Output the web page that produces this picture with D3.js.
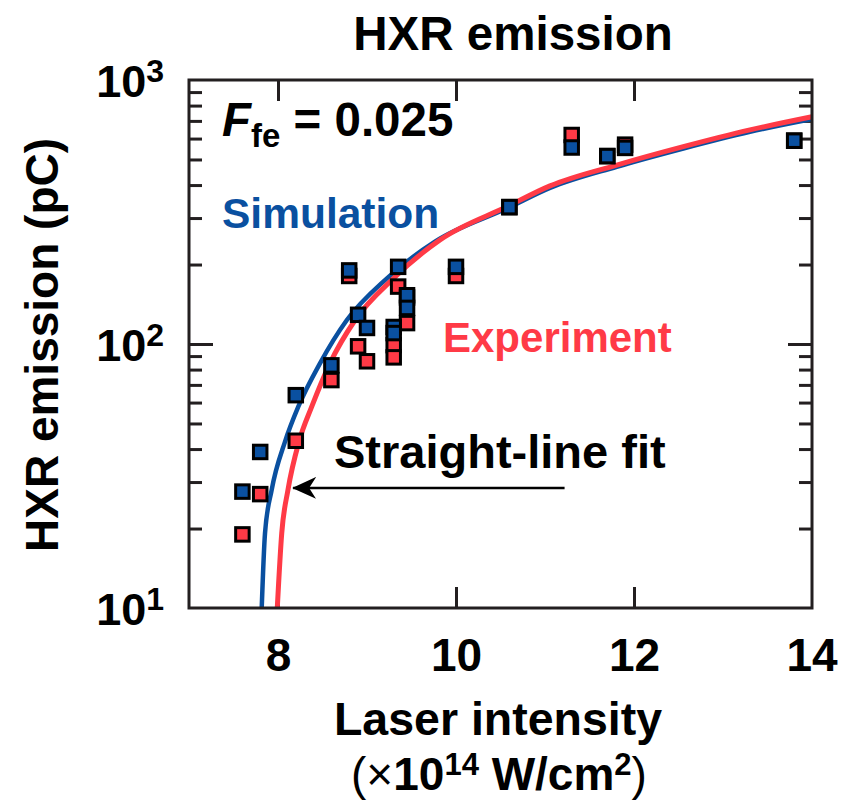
<!DOCTYPE html>
<html>
<head>
<meta charset="utf-8">
<script src="https://cdn.jsdelivr.net/npm/d3@7"></script>
<style>
body { margin: 0; background: #fff; }
text { font-family: "Liberation Sans", Arial, Helvetica, sans-serif; font-weight: bold; }
</style>
</head>
<body>
<div id="chart"></div>
<script>
// values
var intensity = [7.6, 7.8, 8.2, 8.6, 8.8, 8.9, 9.0, 9.3, 9.3, 9.35, 9.45, 9.45, 10.0, 10.6, 11.3, 11.7, 11.9, 13.8];
var simulation = [27.6, 39, 64, 83, 190, 129, 115, 116, 110, 196, 153, 137, 196, 330, 555, 515, 553, 589];
var experiment = [19, 27, 43, 73, 181, 98, 86, 99, 89, 165, 150, 120, 181, 330, 619, 515, 569, 589];

// straight-line fits
var simFitX = [7.817, 7.854, 7.929, 8.079, 8.228, 8.472, 8.772, 9.221, 9.764, 10.588, 11.056, 11.806, 12.554, 13.303, 14.0];
var simFitY = [10, 19.2, 28.0, 42.7, 57.9, 84.5, 123, 177, 244, 328, 390, 469, 550, 636, 711];
var expFitX = [7.992, 8.042, 8.112, 8.236, 8.379, 8.584, 8.865, 9.296, 9.820, 10.588, 11.056, 11.806, 12.554, 13.303, 14.0];
var expFitY = [10, 19.2, 28.0, 42.7, 57.9, 84.5, 123, 177, 248, 333, 397, 476, 559, 647, 726];

var xTicks = [8, 10, 12, 14];
var yDecades = [1, 2, 3];

var blue = "#0a50a0";
var red = "#ff3a46";

var svgWidth = 849;
var svgHeight = 803;
var margin = {top: 80, left: 189, right: 37, bottom: 195};
var chartWidth = svgWidth - margin.left - margin.right;
var chartHeight = svgHeight - margin.top - margin.bottom;

var svg = d3.select("#chart").append("svg").attr("width", svgWidth).attr("height", svgHeight);
var chartGroup = svg.append("g").attr("transform", `translate(${margin.left},${margin.top})`);

var xScale = d3.scaleLinear().domain([7, 14]).range([0, chartWidth]);
var yScale = d3.scaleLog().domain([10, 1000]).range([chartHeight, 0]);

// minor ticks 20..90, 200..900
var minorTicks = [];
[10, 100].forEach(function(base) {
    for (var k = 2; k <= 9; k++) minorTicks.push(base * k);
});

// x axis, ticks pointing inwards
var bottomAxis = d3.axisBottom(xScale).tickValues(xTicks.slice(0, 3)).tickSize(-21).tickPadding(30).tickFormat(d3.format("d"));
var xAxisG = chartGroup.append("g").attr("transform", `translate(0,${chartHeight})`).call(bottomAxis);
xAxisG.selectAll("text").attr("font-size", 46).attr("fill", "#000");
// label for 14 sits on the frame corner
xAxisG.append("text").attr("x", xScale(14)).attr("y", 30).attr("dy", "0.71em")
    .attr("text-anchor", "middle").attr("font-size", 46).attr("fill", "#000").text(xTicks[3]);

var topAxis = d3.axisTop(xScale).tickValues(xTicks.slice(0, 3)).tickSize(-21).tickFormat("");
chartGroup.append("g").call(topAxis);

// y axes both sides
chartGroup.append("g").call(d3.axisLeft(yScale).tickValues(minorTicks).tickSize(-13).tickFormat(""));
chartGroup.append("g").call(d3.axisLeft(yScale).tickValues([100]).tickSize(-24).tickFormat(""));
chartGroup.append("g").attr("transform", `translate(${chartWidth},0)`)
    .call(d3.axisRight(yScale).tickValues(minorTicks).tickSize(-13).tickFormat(""));
chartGroup.append("g").attr("transform", `translate(${chartWidth},0)`)
    .call(d3.axisRight(yScale).tickValues([100]).tickSize(-24).tickFormat(""));

chartGroup.selectAll(".domain").remove();
chartGroup.selectAll(".tick line").attr("stroke", "#231f20").attr("stroke-width", 3);

// y tick labels 10^n
var yLab = chartGroup.append("g").selectAll("text")
    .data(yDecades)
    .enter()
    .append("text")
    .attr("x", -25)
    .attr("y", d => yScale(Math.pow(10, d)) + 17)
    .attr("text-anchor", "end")
    .attr("font-size", 45);
yLab.append("tspan").text("10");
yLab.append("tspan").attr("dy", -15).attr("font-size", 32).text(d => d);

// fit curves
var line = d3.line().curve(d3.curveMonotoneX);
chartGroup.append("path")
    .attr("d", line(simFitX.map((d, i) => [xScale(d), yScale(simFitY[i])])))
    .attr("fill", "none").attr("stroke", blue).attr("stroke-width", 4.5);
chartGroup.append("path")
    .attr("d", line(expFitX.map((d, i) => [xScale(d), yScale(expFitY[i])])))
    .attr("fill", "none").attr("stroke", red).attr("stroke-width", 5);

// markers: experiment under simulation
var size = 13.5;
chartGroup.append("g").selectAll("rect")
    .data(intensity)
    .enter()
    .append("rect")
    .attr("x", d => xScale(d) - size / 2)
    .attr("y", (d, i) => yScale(experiment[i]) - size / 2)
    .attr("width", size).attr("height", size)
    .attr("fill", red).attr("stroke", "#000").attr("stroke-width", 3);
chartGroup.append("g").selectAll("rect")
    .data(intensity)
    .enter()
    .append("rect")
    .attr("x", d => xScale(d) - size / 2)
    .attr("y", (d, i) => yScale(simulation[i]) - size / 2)
    .attr("width", size).attr("height", size)
    .attr("fill", blue).attr("stroke", "#000").attr("stroke-width", 3);

// frame
chartGroup.append("rect").attr("width", chartWidth).attr("height", chartHeight)
    .attr("fill", "none").attr("stroke", "#231f20").attr("stroke-width", 3);

// arrow for the fit label (tip at the end of the line)
svg.append("defs").append("marker")
    .attr("id", "head").attr("viewBox", "0 0 24 22").attr("refX", 23).attr("refY", 11)
    .attr("markerWidth", 24).attr("markerHeight", 22).attr("markerUnits", "userSpaceOnUse")
    .attr("orient", "auto")
    .append("path").attr("d", "M24,11 L0,0 L7,11 L0,22 Z").attr("fill", "#000");
chartGroup.append("line")
    .attr("x1", xScale(11.22)).attr("x2", xScale(8.17))
    .attr("y1", yScale(28.5)).attr("y2", yScale(28.5))
    .attr("stroke", "#000").attr("stroke-width", 2.5)
    .attr("marker-end", "url(#head)");

// annotations
var ffe = svg.append("text").attr("x", 222).attr("y", 136).attr("font-size", 47.5);
ffe.append("tspan").attr("font-style", "italic").text("F");
ffe.append("tspan").attr("font-size", 33).attr("dy", 11).text("fe");
ffe.append("tspan").attr("dy", -11).text(" = 0.025");

svg.append("text").attr("x", 222).attr("y", 228).attr("font-size", 42.5).attr("fill", blue).text("Simulation");
svg.append("text").attr("x", 443).attr("y", 352).attr("font-size", 42).attr("fill", red).text("Experiment");
svg.append("text").attr("x", 334).attr("y", 468).attr("font-size", 47).text("Straight-line fit");

// title and axis labels
svg.append("text").attr("x", 513).attr("y", 50).attr("text-anchor", "middle").attr("font-size", 47.5).text("HXR emission");

svg.append("text")
    .attr("transform", "translate(58,345) rotate(-90)")
    .attr("text-anchor", "middle").attr("font-size", 46)
    .text("HXR emission (pC)");

svg.append("text").attr("x", 498).attr("y", 735).attr("text-anchor", "middle").attr("font-size", 46.5).text("Laser intensity");
var unit = svg.append("text").attr("x", 499).attr("y", 790).attr("text-anchor", "middle").attr("font-size", 46);
unit.append("tspan").attr("font-weight", "normal").text("(\u00d7");
unit.append("tspan").text("10");
unit.append("tspan").attr("dy", -15).attr("font-size", 31).text("14");
unit.append("tspan").attr("dy", 15).text(" W/cm");
unit.append("tspan").attr("dy", -15).attr("font-size", 31).text("2");
unit.append("tspan").attr("dy", 15).attr("font-weight", "normal").text(")");
</script>
</body>
</html>
